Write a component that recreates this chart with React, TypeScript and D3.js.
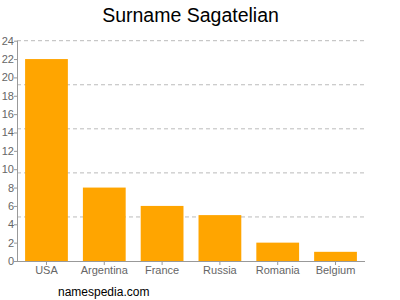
import React from "react";
import * as d3 from "d3";

const categories = ["USA", "Argentina", "France", "Russia", "Romania", "Belgium"];
const values = [22, 8, 6, 5, 2, 1];
const yTicks = [0, 2, 4, 6, 8, 10, 12, 14, 16, 18, 20, 22, 24];
const gridValues = [4.8, 9.6, 14.4, 19.2, 24];

export default function App() {
  const W = 400, H = 300;
  const left = 17, right = 365, top = 40.7, bottom = 261;
  const x = d3.scaleBand<string>().domain(categories).range([left, right]).paddingInner(0.26).paddingOuter(0.14);
  const y = d3.scaleLinear().domain([0, 24]).range([bottom, top]);
  const font = "'Liberation Sans', Arial, Helvetica, sans-serif";
  return (
    <svg width={W} height={H} style={{ position: "absolute", left: 0, top: 0 }} fontFamily={font}>
      <rect width={W} height={H} fill="#fff" />
      <text x={190.5} y={22} textAnchor="middle" fontSize={19.5} fill="#000">Surname Sagatelian</text>
      {gridValues.map((g) => (
        <line key={g} x1={left} x2={right} y1={y(g)} y2={y(g)} stroke="#bbb" strokeDasharray="4,3" strokeWidth={1} />
      ))}
      {categories.map((c, i) => (
        <rect key={c} x={x(c)} y={y(values[i])} width={x.bandwidth()} height={bottom - y(values[i])} fill="#FFA500" />
      ))}
      <line x1={left + 0.5} x2={left + 0.5} y1={top} y2={bottom} stroke="#999" />
      <line x1={left} x2={right} y1={bottom + 0.5} y2={bottom + 0.5} stroke="#999" />
      {yTicks.map((t) => (
        <g key={t}>
          <line x1={left - 3} x2={left} y1={y(t) + 0.5} y2={y(t) + 0.5} stroke="#999" />
          <text x={left - 3} y={y(t) + 4} textAnchor="end" fontSize={11} fill="#666">{t}</text>
        </g>
      ))}
      {categories.map((c) => (
        <g key={c}>
          <line x1={x(c)! + x.bandwidth() / 2} x2={x(c)! + x.bandwidth() / 2} y1={bottom} y2={bottom + 4} stroke="#999" />
          <text x={x(c)! + x.bandwidth() / 2} y={274} textAnchor="middle" fontSize={11} fill="#666">{c}</text>
        </g>
      ))}
      <text x={58} y={296} fontSize={12} fill="#000">namespedia.com</text>
    </svg>
  );
}
